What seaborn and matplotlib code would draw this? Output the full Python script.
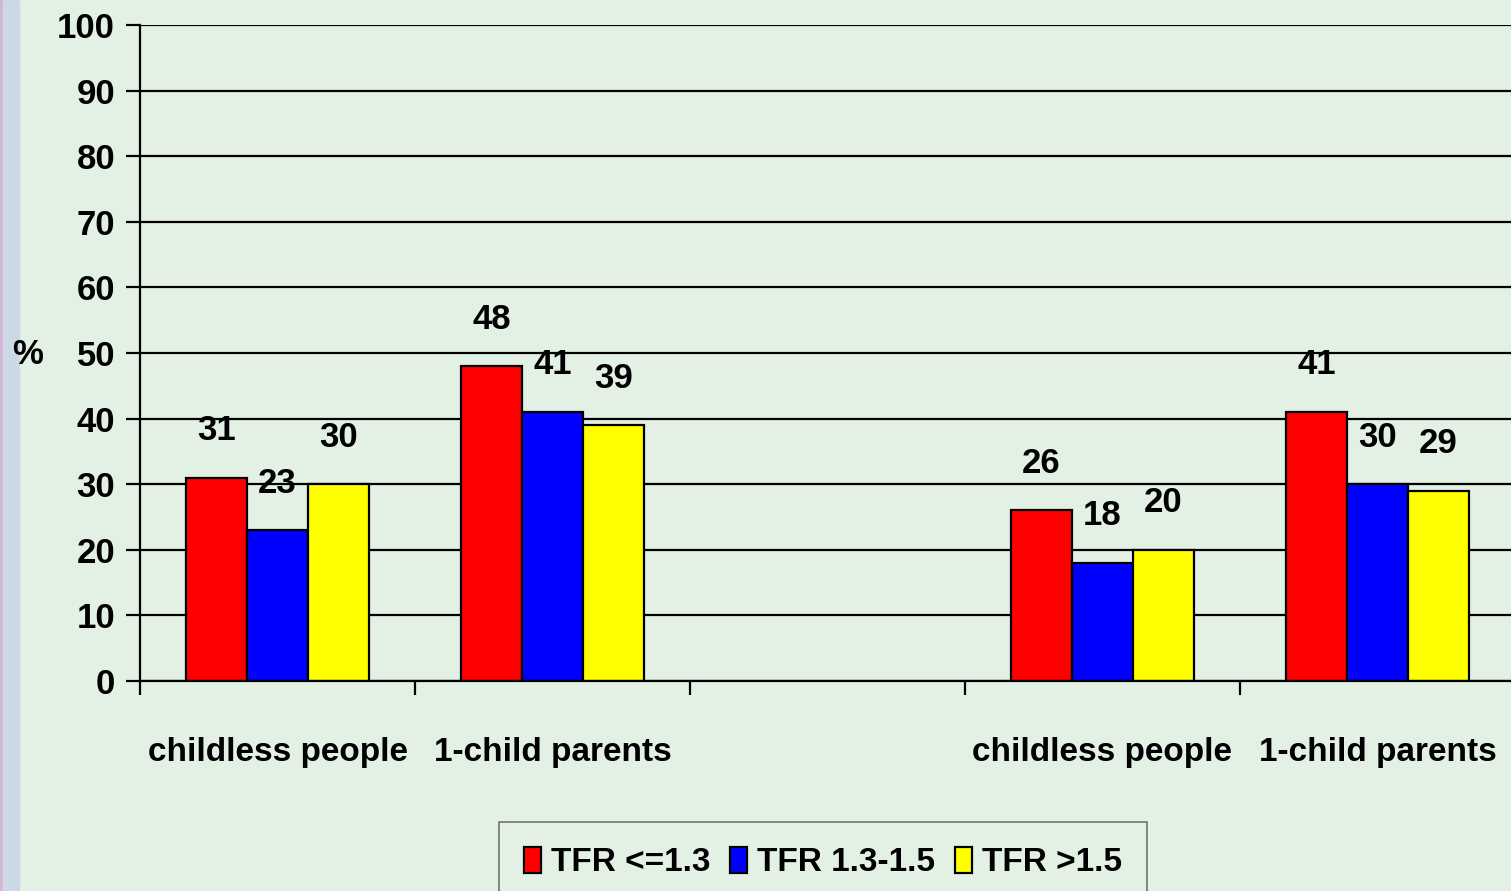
import matplotlib
matplotlib.use("Agg")
import matplotlib.pyplot as plt
from matplotlib.patches import Rectangle
from matplotlib.ticker import FixedLocator
import seaborn as sns
import pandas as pd

# ---- data ----
category_keys = ["c1", "c2", "gap", "c3", "c4"]
category_labels = ["childless people", "1-child parents", "", "childless people", "1-child parents"]
series_names = ["TFR <=1.3", "TFR 1.3-1.5", "TFR >1.5"]
tfr_low = [31, 48, None, 26, 41]
tfr_mid = [23, 41, None, 18, 30]
tfr_high = [30, 39, None, 20, 29]
colors = ["#FF0000", "#0000FF", "#FFFF00"]
y_ticks = list(range(0, 101, 10))

rows = []
for name, vals in zip(series_names, [tfr_low, tfr_mid, tfr_high]):
    for key, v in zip(category_keys, vals):
        if v is not None:
            rows.append({"cat": key, "series": name, "value": v})
df = pd.DataFrame(rows)

sns.set_theme(style="white")
plt.rcParams["font.family"] = ["Liberation Sans", "DejaVu Sans"]
plt.rcParams["font.weight"] = "bold"
plt.rcParams["text.color"] = "black"
plt.rcParams["xtick.color"] = "black"
plt.rcParams["ytick.color"] = "black"
plt.rcParams["axes.labelcolor"] = "black"

bg = "#E3F1E5"
fig = plt.figure(figsize=(15.11, 8.91), dpi=100, facecolor=bg)
ax = fig.add_axes([140 / 1511, 1 - 681 / 891, (1515 - 140) / 1511, (681 - 25) / 891])
ax.set_facecolor(bg)

sns.barplot(data=df, x="cat", y="value", hue="series", order=category_keys,
            hue_order=series_names, palette=colors, width=0.665, gap=0,
            edgecolor="black", linewidth=1.6, saturation=1, ax=ax, legend=True,
            errorbar=None)

ax.set_ylim(0, 100)
ax.set_xlim(-0.5, 4.5)
ax.yaxis.set_major_locator(FixedLocator(y_ticks))
ax.set_yticklabels([str(t) for t in y_ticks], fontsize=25, fontweight="bold", color="black")
ax.grid(axis="y", color="black", linewidth=1.6)
ax.set_axisbelow(True)

ax.set_xticks(range(len(category_keys)))
ax.set_xticklabels(category_labels, fontsize=24, fontweight="bold", color="black")
ax.xaxis.set_minor_locator(FixedLocator([-0.5, 0.5, 1.5, 2.5, 3.5]))
ax.tick_params(axis="x", which="major", length=0, pad=40)
ax.tick_params(axis="x", which="minor", length=10, width=1.6, color="black", direction="out", bottom=True)
ax.tick_params(axis="y", which="major", length=10, width=1.6, color="black", direction="out", left=True, pad=8)
ax.set_xlabel("")
ax.set_ylabel("")

for side in ["top", "right"]:
    ax.spines[side].set_visible(False)
for side in ["left", "bottom"]:
    ax.spines[side].set_color("black")
    ax.spines[side].set_linewidth(1.6)

for cont in ax.containers:
    ax.bar_label(cont, fmt="%d", padding=22, fontsize=25, fontweight="bold", color="black")

ax.text(-0.082, 0.497, "%", transform=ax.transAxes, fontsize=25, fontweight="bold",
        ha="center", va="center", color="black")

# legend
h, l = ax.get_legend_handles_labels()
ax.get_legend().remove()
leg = fig.legend(h, l, loc="upper center", bbox_to_anchor=(823 / 1511, 1 - 822 / 891),
                 ncol=3, frameon=True, fancybox=False, fontsize=24,
                 handlelength=0.5, handleheight=0.8, handletextpad=0.3,
                 columnspacing=0.6, borderpad=0.75, borderaxespad=0)
leg.get_frame().set_edgecolor("#555555")
leg.get_frame().set_facecolor(bg)
leg.get_frame().set_linewidth(1.2)
for t in leg.get_texts():
    t.set_fontweight("bold")
    t.set_color("black")
for p in leg.get_patches():
    p.set_edgecolor("black")
    p.set_linewidth(1.6)

# left decorative strip
fig.add_artist(Rectangle((0, 0), 3 / 1511, 1, transform=fig.transFigure, color="#D6B4D6", zorder=0))
fig.add_artist(Rectangle((3 / 1511, 0), 16 / 1511, 1, transform=fig.transFigure, color="#CCD8E4", zorder=0))

fig.savefig("out.png", dpi=100, facecolor=bg)
